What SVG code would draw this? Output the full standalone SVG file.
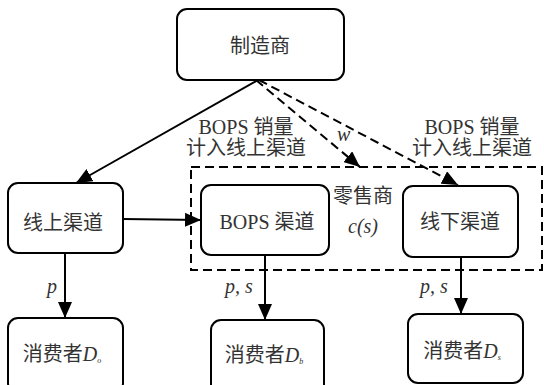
<svg xmlns="http://www.w3.org/2000/svg" width="544" height="385" viewBox="0 0 544 385">
<style>
.box{fill:#fff;stroke:#000;stroke-width:2}
.t{font-size:20px;fill:#333;text-anchor:middle}
.i{font-style:italic;fill:#333}
.ln{stroke:#000;stroke-width:2;fill:none}
.dash{stroke:#000;stroke-width:2;fill:none;stroke-dasharray:9 5}
</style>
<defs>
<marker id="ah" markerUnits="userSpaceOnUse" markerWidth="16" markerHeight="14" refX="16" refY="7" orient="auto">
<path d="M0,0 L16,7 L0,14 z" fill="#000"/>
</marker>
</defs>
<rect x="191" y="167" width="351" height="103" class="dash"/>
<g id="connectors" font-family="'Liberation Serif', 'DejaVu Serif', 'Noto Sans CJK SC', serif">
<line x1="258" y1="80" x2="76" y2="183" class="ln" marker-end="url(#ah)"/>
<line x1="256" y1="80" x2="360" y2="167" class="dash" marker-end="url(#ah)"/>
<line x1="259" y1="80" x2="458" y2="185" class="dash" marker-end="url(#ah)"/>
<line x1="123" y1="219" x2="201" y2="220" class="ln" marker-end="url(#ah)"/>
<line x1="65" y1="253" x2="65" y2="318" class="ln" marker-end="url(#ah)"/>
<line x1="265" y1="255" x2="265" y2="320" class="ln" marker-end="url(#ah)"/>
<line x1="461" y1="257" x2="461" y2="314" class="ln" marker-end="url(#ah)"/>
<text class="i" x="337" y="141" font-size="20">w</text>
<text class="i" x="47" y="293" font-size="20">p</text>
<text class="i" x="225" y="293" font-size="20">p, s</text>
<text class="i" x="420" y="293" font-size="20">p, s</text>
<text class="t" x="246" y="134">BOPS 销量</text>
<text class="t" x="246" y="155">计入线上渠道</text>
<text class="t" x="472" y="134">BOPS 销量</text>
<text class="t" x="472" y="155">计入线上渠道</text>
</g>
<g id="retailer" font-family="'Liberation Serif', 'DejaVu Serif', 'Noto Sans CJK SC', serif">
<text class="t" x="363" y="203">零售商</text>
<text class="i" x="363" y="233" font-size="20" text-anchor="middle">c(s)</text>
</g>
<g id="manufacturer" font-family="'Liberation Serif', 'DejaVu Serif', 'Noto Sans CJK SC', serif">
<rect x="177" y="9" width="167" height="71" rx="10" class="box"/>
<text class="t" x="260" y="53">制造商</text>
</g>
<g id="online" font-family="'Liberation Serif', 'DejaVu Serif', 'Noto Sans CJK SC', serif">
<rect x="8" y="183" width="115" height="70" rx="10" class="box"/>
<text class="t" x="63" y="230">线上渠道</text>
</g>
<g id="bops" font-family="'Liberation Serif', 'DejaVu Serif', 'Noto Sans CJK SC', serif">
<rect x="201" y="185" width="128" height="70" rx="10" class="box"/>
<text class="t" x="267" y="229">BOPS 渠道</text>
</g>
<g id="offline" font-family="'Liberation Serif', 'DejaVu Serif', 'Noto Sans CJK SC', serif">
<rect x="403" y="186" width="115" height="71" rx="10" class="box"/>
<text class="t" x="460" y="229">线下渠道</text>
</g>
<g id="consumerO" font-family="'Liberation Serif', 'DejaVu Serif', 'Noto Sans CJK SC', serif">
<rect x="8" y="318" width="115" height="75" rx="10" class="box"/>
<text class="t" x="62" y="361">消费者<tspan class="i" font-size="20">D</tspan><tspan class="i" font-size="8" dy="2">o</tspan></text>
</g>
<g id="consumerB" font-family="'Liberation Serif', 'DejaVu Serif', 'Noto Sans CJK SC', serif">
<rect x="211" y="320" width="113" height="75" rx="10" class="box"/>
<text class="t" x="264" y="362">消费者<tspan class="i" font-size="20">D</tspan><tspan class="i" font-size="8" dy="2">b</tspan></text>
</g>
<g id="consumerS" font-family="'Liberation Serif', 'DejaVu Serif', 'Noto Sans CJK SC', serif">
<rect x="408" y="314" width="115" height="69" rx="10" class="box"/>
<text class="t" x="462" y="358">消费者<tspan class="i" font-size="20">D</tspan><tspan class="i" font-size="8" dy="2">s</tspan></text>
</g>
</svg>
